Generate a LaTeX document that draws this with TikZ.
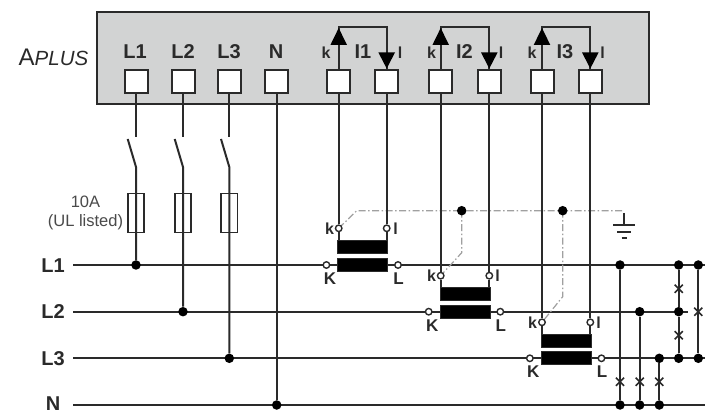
\documentclass[tikz,border=0pt]{standalone}
\usepackage{fontspec}
\setmainfont{Liberation Sans}
\usetikzlibrary{shapes.misc,calc}
\definecolor{ink}{HTML}{2A2A2A}
\definecolor{panel}{HTML}{D2D3D3}
\definecolor{screen}{HTML}{A0A0A0}
\newcommand{\fsz}[1]{\fontsize{#1}{#1}\selectfont}
\tikzset{
  wire/.style={draw=ink,line width=2pt},
  term/.style={draw=ink,fill=white,line width=2pt,minimum size=23pt,inner sep=0pt},
  fuse/.style={draw=ink,line width=1.8pt,minimum width=16.4pt,minimum height=39pt,inner sep=0pt},
  dot/.style={circle,fill=black,minimum size=9.5pt,inner sep=0pt},
  pin/.style={circle,draw=ink,fill=white,line width=1.4pt,minimum size=6.5pt,inner sep=0pt},
  core/.style={fill=black,draw=ink,line width=.6pt,minimum width=50pt,minimum height=13pt,inner sep=0pt},
  head/.style={font=\bfseries\fsz{20},text=ink,inner sep=0pt},
  big/.style={font=\bfseries\fsz{17},text=ink,inner sep=0pt},
  small/.style={font=\bfseries\fsz{16},text=ink,inner sep=0pt},
  shield/.style={draw=screen,line width=1.2pt,dash pattern=on 7pt off 2.5pt on 1.5pt off 2.5pt},
  xmark/.style={cross out,draw=ink,line width=1.6pt,minimum size=6.5pt,inner sep=0pt},
  tip/.style={fill=black,draw=none},
}
\begin{document}
\begin{tikzpicture}[x=1pt,y=-1pt]
\useasboundingbox (0,0) rectangle (705,414);
\fill[white] (0,0) rectangle (705,414);
% panel
\node[draw=ink,fill=panel,line width=2pt,minimum width=552pt,minimum height=92pt,inner sep=0pt] (panel) at (372.5,58) {};
\node[inner sep=0pt,text=ink,anchor=base] (title) at (53.5,66) {\fsz{24}A\itshape\fsz{20.5}PLUS};
% terminals
\foreach \n/\x in {tA/136,tB/183,tC/229.3,tN/276.7,tak/338.7,tal/386.7,tbk/440.7,tbl/489.3,tck/542,tcl/590.3}
  \node[term] (\n) at (\x,82) {};
\node[head] (lA) at (135,52) {L1};
\node[head] (lB) at (183,52) {L2};
\node[head] (lC) at (229,52) {L3};
\node[head] (lN) at (276,52) {N};
\node[head] (lIa) at (363,52) {I1};
\node[head] (lIb) at (464.5,52) {I2};
\node[head] (lIc) at (565,52) {I3};
\foreach \n/\x/\t in {pk/326/k,pl/400/l,qk/431.5/k,ql/501/l,rk/532/k,rl/602.5/l}
  \node[small] (\n) at (\x,53) {\t};
% current loops
\foreach \k/\l in {tak/tal,tbk/tbl,tck/tcl}{
  \coordinate (\k top) at (\k.north |- 0,27);
  \coordinate (\l top) at (\l.north |- 0,27);
  \draw[wire] (\k.north) -- (\k top) -- (\l top) -- (\l.north);
  \fill[tip] (\k top) ++(0,1) -- ++(8.3,17) -- ++(-16.6,0) -- cycle;
  \fill[tip] (\l.north) ++(0,-1) -- ++(8.3,-16) -- ++(-16.6,0) -- cycle;
}
% bus
\coordinate (wA) at (73,265);
\coordinate (wB) at (73,311.7);
\coordinate (wC) at (73,358.3);
\coordinate (wN) at (73,405);
\coordinate (eA) at (705,265);
\coordinate (eB) at (688,311.7);
\coordinate (eC) at (705,358.3);
\coordinate (eN) at (705,405);
\draw[wire] (wA)--(eA) (wB)--(eB) (wC)--(eC) (wN)--(eN);
\node[head] (bA) at (53,265.5) {L1};
\node[head] (bB) at (53,312) {L2};
\node[head] (bC) at (53,358.5) {L3};
\node[head] (bN) at (53,404) {N};
% phase feeds with switch and fuse
\foreach \t/\x/\y/\f in {tA/136/265/fa,tB/183/311.7/fb,tC/229.3/358.3/fc}{
  \coordinate (\t o) at (\x,137);
  \coordinate (\t b) at (\x,167);
  \coordinate (\t h) at (\x-8.3,139);
  \node[fuse] (\f) at (\x,213) {};
  \node[dot] (\t d) at (\x,\y) {};
  \draw[wire] (\t.south) -- (\t o);
  \draw[wire] (\t h) -- (\t b) -- (\t d);
}
\node[dot] (nd) at (276.7,405) {};
\draw[wire] (tN) -- (nd);
\node[inner sep=0pt,text=ink!85,align=center,font=\fsz{16.5}] (fl) at (85.5,213) {10A\\[3pt](UL listed)};
% shield routing points, drawn under the pins and dots
\coordinate (sa) at (356.7,210.7);
\coordinate (se) at (624,210.7);
\coordinate (sbb) at (461.7,252.7);
\coordinate (scb) at (562.7,296.7);
\coordinate (ka) at (338.7,228.3);
\coordinate (kb) at (440.7,275.7);
\coordinate (kc) at (542,322.3);
\coordinate (sbt) at (461.7,210.7);
\coordinate (sct) at (562.7,210.7);
\draw[shield] (ka) -- (sa) -- (se);
\draw[shield] (sbt) -- (sbb) -- (kb);
\draw[shield] (sct) -- (scb) -- (kc);
\node[dot] (sb) at (sbt) {};
\node[dot] (sc) at (sct) {};
% transformers
\foreach \k/\l/\y/\u/\lx/\xk/\xl in {tak/tal/228.3/265/a/329.5/395.5/,tbk/tbl/275.7/311.7/b/431.5/497.5/,tck/tcl/322.3/358.3/c/532.5/598.5/}{
  \node[pin] (\lx k) at (\k |- 0,\y) {};
  \node[pin] (\lx l) at (\l |- 0,\y) {};
  \draw[wire] (\k) -- (\lx k);
  \draw[wire] (\l) -- (\lx l);
  \coordinate (\lx m) at ($(\lx k)!.5!(\lx l)$);
  \node[core] (\lx up) at (\lx m |- 0,\y+18.5) {};
  \node[core] (\lx lo) at (\lx m |- 0,\u) {};
  \draw[wire] (\lx k) -- (\lx k |- \lx up.north);
  \draw[wire] (\lx l) -- (\lx l |- \lx up.north);
  \node[small] at (\xk,\y) {k};
  \node[small] at (\xl,\y) {l};
  \node[pin] (\lx K) at ($(\lx lo.west)+(-11,0)$) {};
  \node[pin] (\lx L) at ($(\lx lo.east)+(10,0)$) {};
  \node[big] at ($(\lx K)+(3.5,13.5)$) {K};
  \node[big] at ($(\lx L)+(0.5,13.5)$) {L};
}
% earth
\coordinate (ga) at (624,213);
\coordinate (gb) at (624,225);
\draw[wire] (ga) -- (gb);
\draw[wire] (613,225) -- (635,225);
\draw[wire] (617,231.7) -- (631,231.7);
\draw[wire] (621.5,237.7) -- (626.5,237.7);
% links
\foreach \n/\x/\a/\b/\xy in {u/620/265/405/381.7,v/639.7/311.7/405/381.7,w/659.3/358.3/405/381.7,z/698.3/265/358.3/311.7}{
  \node[dot] (\n a) at (\x,\a) {};
  \node[dot] (\n b) at (\x,\b) {};
  \draw[wire] (\n a) -- (\n b);
  \node[xmark] (\n x) at (\x,\xy) {};
}
\node[dot] (ya) at (678.7,265) {};
\node[dot] (ym) at (678.7,311.7) {};
\node[dot] (yb) at (678.7,358.3) {};
\draw[wire] (ya) -- (ym) -- (yb);
\node[xmark] (yx) at (678.7,288.7) {};
\node[xmark] (yz) at (678.7,335.3) {};
\end{tikzpicture}
\end{document}
